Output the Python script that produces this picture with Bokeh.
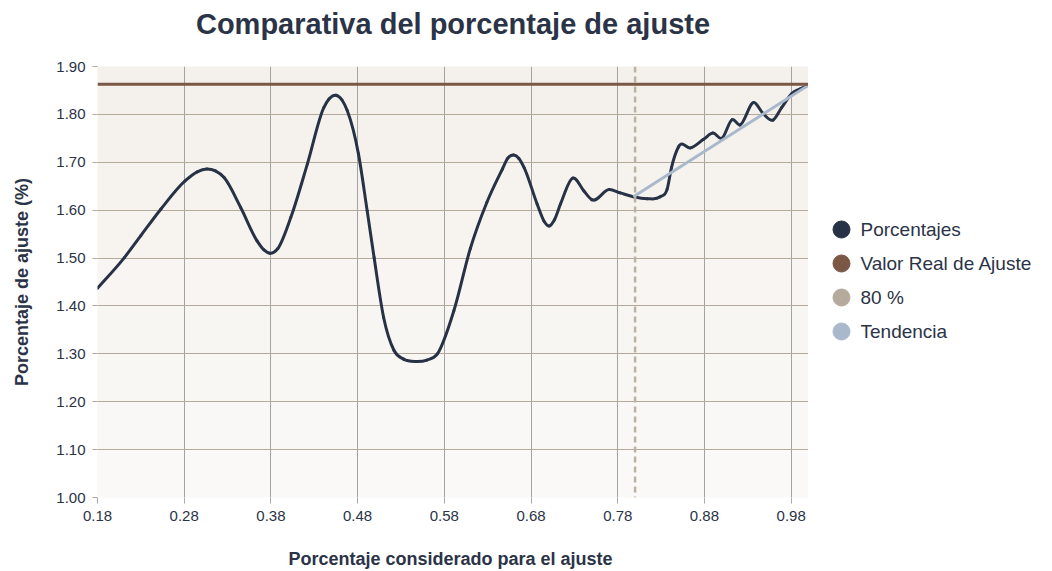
import numpy as np
from bokeh.plotting import figure
from bokeh.layouts import row
from bokeh.core.properties import value
from bokeh.models import (ColumnDataSource, FixedTicker, NumeralTickFormatter,
                          Span, Title, Range1d)
from bokeh.embed import file_html
from bokeh.resources import INLINE

# ---------------- data ----------------
pct_x = [0.180, 0.211, 0.230, 0.253, 0.281, 0.295, 0.306, 0.316, 0.326, 0.345,
         0.364, 0.372, 0.379, 0.388, 0.403, 0.422, 0.441, 0.447, 0.455, 0.462,
         0.468, 0.481, 0.491, 0.499, 0.510, 0.522, 0.533, 0.547, 0.560, 0.572,
         0.591, 0.610, 0.629, 0.647, 0.653, 0.660, 0.666, 0.672, 0.687, 0.695,
         0.701, 0.707, 0.714, 0.728, 0.741, 0.750, 0.770, 0.783, 0.798, 0.814,
         0.829, 0.837, 0.842, 0.850, 0.864, 0.879, 0.890, 0.900, 0.912, 0.921,
         0.937, 0.948, 0.959, 0.969, 0.981, 0.990, 1.000]
pct_y = [1.437, 1.501, 1.547, 1.602, 1.661, 1.680, 1.686, 1.682, 1.668, 1.606,
         1.536, 1.517, 1.510, 1.520, 1.585, 1.696, 1.814, 1.832, 1.840, 1.830,
         1.808, 1.717, 1.599, 1.501, 1.376, 1.307, 1.289, 1.284, 1.287, 1.300,
         1.390, 1.520, 1.616, 1.686, 1.708, 1.715, 1.708, 1.689, 1.613, 1.577,
         1.567, 1.580, 1.613, 1.667, 1.640, 1.622, 1.643, 1.636, 1.628, 1.624,
         1.628, 1.644, 1.689, 1.732, 1.730, 1.748, 1.761, 1.750, 1.789, 1.778,
         1.825, 1.801, 1.788, 1.814, 1.844, 1.853, 1.861]
real_value = 1.863
cut_x = 0.80
trend_x = [0.798, 1.000]
trend_y = [1.628, 1.861]
x_ticks = [0.18, 0.28, 0.38, 0.48, 0.58, 0.68, 0.78, 0.88, 0.98]
y_ticks = [1.00, 1.10, 1.20, 1.30, 1.40, 1.50, 1.60, 1.70, 1.80, 1.90]
legend_labels = ["Porcentajes", "Valor Real de Ajuste", "80 %", "Tendencia"]

X_START, X_END = 0.18, 1.0
Y_START, Y_END = 1.0, 1.9

# ---------------- smooth rendering (cubic Hermite -> Bezier segments) ----------------
xs = np.asarray(pct_x, dtype=float)
ys = np.asarray(pct_y, dtype=float)
h = np.diff(xs)
d = np.diff(ys) / h
m = np.empty_like(xs)
m[0] = d[0]
m[-1] = d[-1]
m[1:-1] = (d[1:] * h[:-1] + d[:-1] * h[1:]) / (h[:-1] + h[1:])
seg = dict(
    x0=xs[:-1], y0=ys[:-1], x1=xs[1:], y1=ys[1:],
    cx0=xs[:-1] + h / 3, cy0=ys[:-1] + m[:-1] * h / 3,
    cx1=xs[1:] - h / 3, cy1=ys[1:] - m[1:] * h / 3,
)

# ---------------- styling ----------------
TXT = "#2b3347"
C_PCT = "#283246"
C_REAL = "#7b5745"
C_CUT = "#bdb1a4"
C_TREND = "#a9b9cb"
FONT = "Liberation Sans"
FIG_H = 571
BORDER_TOP, BORDER_BOTTOM = 66, 74

p = figure(width=808, height=FIG_H, x_range=(X_START, X_END), y_range=(Y_START, Y_END),
           output_backend="svg", toolbar_location=None,
           min_border_left=97, min_border_right=0,
           min_border_top=BORDER_TOP, min_border_bottom=BORDER_BOTTOM)

p.background_fill_color = "#f8f6f3"
p.border_fill_color = "white"
p.outline_line_color = None

# spacer title (nearest the frame) then the real title above it
spacer = Title(text=" ", text_font_size="10px", standoff=10, text_color="white")
p.add_layout(spacer, "above")
main_title = Title(text="Comparativa del porcentaje de ajuste", align="center",
                   text_font=FONT, text_font_size="29px", text_font_style="bold",
                   text_color=TXT, standoff=8)
p.add_layout(main_title, "above")

# soft vertical gradient of the plotting area (bands between grid lines)
top_rgb = np.array([0xf4, 0xf0, 0xeb])
bot_rgb = np.array([0xfb, 0xfa, 0xf8])
band_bottom = y_ticks[:-1]
band_top = y_ticks[1:]
band_cols = []
for i in range(len(band_bottom)):
    t = (i + 0.5) / len(band_bottom)
    c = (bot_rgb * (1 - t) + top_rgb * t).round().astype(int)
    band_cols.append("#%02x%02x%02x" % tuple(c))
p.quad(left=X_START, right=X_END, bottom=band_bottom, top=band_top,
       fill_color=band_cols, line_color=None, level="image")

# axes
p.xaxis.ticker = FixedTicker(ticks=x_ticks)
p.yaxis.ticker = FixedTicker(ticks=y_ticks)
p.xaxis.formatter = NumeralTickFormatter(format="0.00")
p.yaxis.formatter = NumeralTickFormatter(format="0.00")
for ax in (p.xaxis, p.yaxis):
    ax.axis_line_color = None
    ax.minor_tick_line_color = None
    ax.major_tick_in = 0
    ax.major_label_text_font = FONT
    ax.major_label_text_font_size = "15px"
    ax.major_label_text_color = TXT
    ax.axis_label_text_font = FONT
    ax.axis_label_text_font_size = "18px"
    ax.axis_label_text_font_style = "bold"
    ax.axis_label_text_color = TXT
p.xaxis.major_tick_out = 6
p.xaxis.major_tick_line_color = "#a9a9a9"
p.yaxis.major_tick_out = 5
p.yaxis.major_tick_line_color = "#b3a698"
p.xaxis.major_label_standoff = 7
p.yaxis.major_label_standoff = 7
p.xaxis.axis_label = "Porcentaje considerado  para el ajuste"
p.yaxis.axis_label = "Porcentaje de ajuste (%)"
p.xaxis.axis_label_standoff = 25
p.yaxis.axis_label_standoff = 21

p.xgrid.ticker = FixedTicker(ticks=x_ticks)
p.ygrid.ticker = FixedTicker(ticks=y_ticks)
p.xgrid.grid_line_color = "#a3a3a3"
p.ygrid.grid_line_color = "#b5a99c"
p.xgrid.grid_line_width = 1
p.ygrid.grid_line_width = 1

# reference lines
real_line = Span(location=real_value, dimension="width", line_color=C_REAL, line_width=3)
cut_line = Span(location=cut_x, dimension="height", line_color=C_CUT, line_width=2.5,
                line_dash="6 4")
p.add_layout(real_line)
p.add_layout(cut_line)

src = ColumnDataSource(data=seg)
p.bezier(x0="x0", y0="y0", x1="x1", y1="y1", cx0="cx0", cy0="cy0",
         cx1="cx1", cy1="cy1", source=src, line_color=C_PCT, line_width=3,
         line_cap="round")
p.line(trend_x, trend_y, line_color=C_TREND, line_width=3)

# ---------------- legend panel (separate figure on the right) ----------------
LG_W = 244
FRAME_H = FIG_H - BORDER_TOP - BORDER_BOTTOM
LEG_TOP, LEG_STEP = 229, 34          # pixel row of first entry, row pitch
MARK_X, TEXT_X = 33, 52              # pixel columns inside the legend panel
off = LEG_TOP - BORDER_TOP
lg = figure(width=LG_W, height=FIG_H,
            x_range=Range1d(0, LG_W),
            y_range=Range1d((FRAME_H - off) / LEG_STEP, -off / LEG_STEP),
            output_backend="svg", toolbar_location=None,
            x_axis_location=None, y_axis_location=None,
            min_border_left=0, min_border_right=0,
            min_border_top=BORDER_TOP, min_border_bottom=BORDER_BOTTOM)
lg.grid.visible = False
lg.outline_line_color = None
lg.background_fill_color = "white"
lg.border_fill_color = "white"

colors = [C_PCT, C_REAL, "#b5aa9d", C_TREND]
idx = list(range(len(legend_labels)))
lsrc = ColumnDataSource(data=dict(i=idx, lab=legend_labels, col=colors,
                                  mx=[MARK_X] * len(idx), tx=[TEXT_X] * len(idx)))
lg.scatter(x="mx", y="i", source=lsrc, marker="circle", size=17,
           fill_color="col", line_color="col")
lg.text(x="tx", y="i", text="lab", source=lsrc, text_baseline="middle",
        text_align="left", text_font=value(FONT), text_font_size="19px",
        text_color=TXT)

layout = row(p, lg, spacing=0)
open("out.html", "w").write(file_html(layout, INLINE))
